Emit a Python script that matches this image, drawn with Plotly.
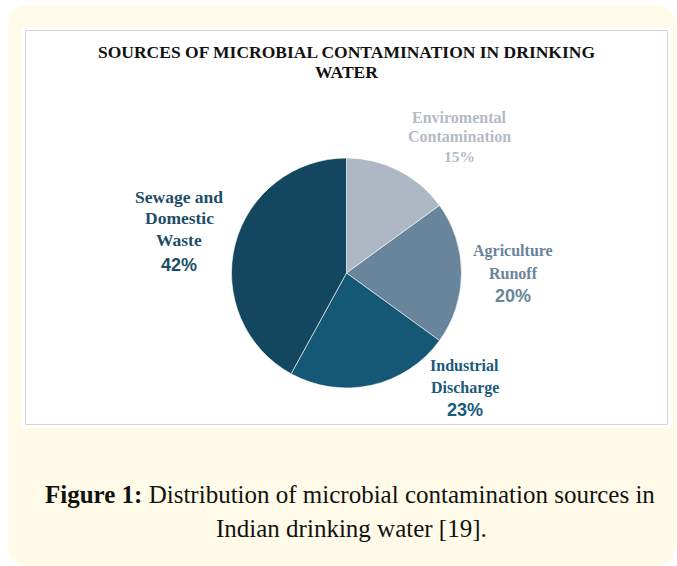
import plotly.graph_objects as go

categories = ["Enviromental<br>Contamination", "Agriculture<br>Runoff", "Industrial<br>Discharge", "Sewage and<br>Domestic<br>Waste"]
values = [15, 20, 23, 42]
slice_colors = ["#aeb8c4", "#68859b", "#155876", "#12475f"]
label_colors = ["#b3bbc6", "#68859b", "#1b5a7a", "#1d4e69"]
title_lines = ["SOURCES OF MICROBIAL CONTAMINATION IN DRINKING", "WATER"]
caption1_bold = "Figure 1:"
caption1_rest = " Distribution of microbial contamination sources in"
caption2 = "Indian drinking water [19]."

W, H = 677, 566
fig = go.Figure()

cx, cy, r = 346.5, 273, 115
fig.add_trace(go.Pie(
    labels=[c.replace("<br>", " ") for c in categories],
    values=values, sort=False, direction="clockwise", rotation=0,
    marker=dict(colors=slice_colors, line=dict(color="white", width=0.6)),
    textinfo="none", hoverinfo="label+percent", showlegend=False,
    domain=dict(x=[(cx - r) / W, (cx + r) / W], y=[1 - (cy + r) / H, 1 - (cy - r) / H]),
))

def px(x):
    return x / W

def py(y):
    return 1 - y / H

shapes = []
x0, y0, x1, y1, rr = 8, 5, 676, 566, 22
path = (f"M {px(x0+rr)},{py(y0)} L {px(x1-rr)},{py(y0)} Q {px(x1)},{py(y0)} {px(x1)},{py(y0+rr)} "
        f"L {px(x1)},{py(y1-rr)} Q {px(x1)},{py(y1)} {px(x1-rr)},{py(y1)} "
        f"L {px(x0+rr)},{py(y1)} Q {px(x0)},{py(y1)} {px(x0)},{py(y1-rr)} "
        f"L {px(x0)},{py(y0+rr)} Q {px(x0)},{py(y0)} {px(x0+rr)},{py(y0)} Z")
shapes.append(dict(type="path", xref="paper", yref="paper", path=path,
                   fillcolor="#fffbe8", line=dict(width=0), layer="below"))
shapes.append(dict(type="rect", xref="paper", yref="paper", x0=px(22), x1=px(671), y0=py(27), y1=py(428),
                   fillcolor="white", line=dict(width=0), layer="below"))
shapes.append(dict(type="rect", xref="paper", yref="paper", x0=px(25.5), x1=px(667.5), y0=py(30.5), y1=py(424.5),
                   fillcolor="white", line=dict(width=1, color="#d5d5d5"), layer="below"))

annotations = []
for line, ty in zip(title_lines, [52, 72]):
    annotations.append(dict(text="<b>" + line + "</b>", x=px(346.5), y=py(ty), xref="paper", yref="paper",
                            showarrow=False, font=dict(family="Liberation Serif", size=17.5, color="#111111"),
                            xanchor="center", yanchor="middle"))

# label layout: centre x, y of each line (names then percentage)
label_x = [459.5, 513, 464.5, 179]
label_ys = [[117, 137, 157], [251, 273, 296], [365, 388, 410], [197, 218, 240, 265]]
name_sizes = [16, 16, 16, 17.5]
pct_sans = [False, True, True, True]
for cat, val, col, lx, ys, ns, sans in zip(categories, values, label_colors, label_x, label_ys, name_sizes, pct_sans):
    parts = cat.split("<br>")
    for part, yy in zip(parts, ys[:-1]):
        annotations.append(dict(text="<b>" + part + "</b>", x=px(lx), y=py(yy), xref="paper", yref="paper",
                                showarrow=False, xanchor="center", yanchor="middle",
                                font=dict(family="Liberation Serif", size=ns, color=col)))
    annotations.append(dict(text="<b>%d%%</b>" % val, x=px(lx), y=py(ys[-1]), xref="paper", yref="paper",
                            showarrow=False, xanchor="center", yanchor="middle",
                            font=dict(family="Liberation Sans" if sans else "Liberation Serif",
                                      size=18 if sans else 15.5, color=col)))

annotations.append(dict(text="<b>" + caption1_bold + "</b>" + caption1_rest, x=px(350), y=py(494),
                        xref="paper", yref="paper", showarrow=False, xanchor="center", yanchor="middle",
                        font=dict(family="Liberation Serif", size=25, color="#111111")))
annotations.append(dict(text=caption2, x=px(351), y=py(528),
                        xref="paper", yref="paper", showarrow=False, xanchor="center", yanchor="middle",
                        font=dict(family="Liberation Serif", size=25, color="#111111")))

fig.update_layout(width=W, height=H, margin=dict(l=0, r=0, t=0, b=0),
                  paper_bgcolor="white", plot_bgcolor="white",
                  shapes=shapes, annotations=annotations)
fig.write_html("out.html")
